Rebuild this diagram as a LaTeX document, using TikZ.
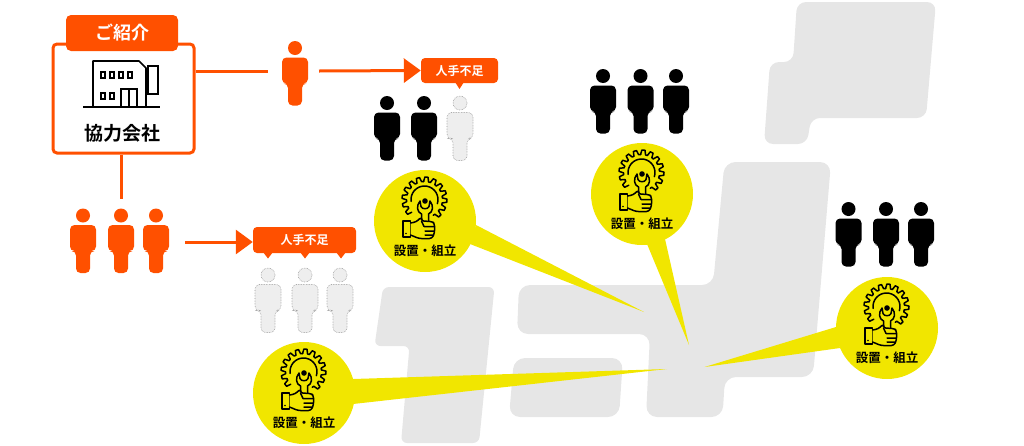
\documentclass[tikz,border=0pt]{standalone}
\usepackage{fontspec}
\setmainfont{Noto Sans CJK JP}[BoldFont={Noto Sans CJK JP Bold}]
\usetikzlibrary{arrows.meta}
\definecolor{org}{HTML}{FF5000}
\definecolor{yel}{HTML}{F1E600}
\definecolor{mapg}{HTML}{E6E6E6}
\definecolor{pale}{HTML}{EEEEEE}
\tikzset{
  mapshape/.style={fill=mapg,rounded corners=9pt},
  tail/.style={fill=yel},
  conn/.style={draw=org,line width=3pt},
  arrowconn/.style={conn,-{Triangle[length=17pt,width=24pt]}},
  iconline/.style={draw=black,line width=1.5pt,line join=round,line cap=round},
  tagtext/.style={text=white,font=\bfseries\fontsize{12}{12}\selectfont,inner sep=0pt},
  bubble/.style={fill=org,rounded corners=4pt},
  persblack/.style={fill=black},
  persorg/.style={fill=org},
  persgray/.style={fill=pale,draw=gray!80,line width=.6pt,densely dotted},
  pics/person/.style={code={
    \path[#1] (0,0) circle[radius=7pt];
    \path[#1,rounded corners=4.5pt] (-13,9.5) -- (13,9.5) -- (13,35.5) -- (7,35.5) -- (7,57.5) -- (-7,57.5) -- (-7,35.5) -- (-13,35.5) -- cycle;
  }},
  pics/repair/.style={code={
    \fill[yel] (0,0) circle[radius=51pt];
    \begin{scope}[shift={(-0.5,-21.5)}]
      \foreach \a in {135,157,...,399}{
        \draw[iconline] ({\a}:18) -- ({\a+4}:22.5) -- ({\a+12}:22.5) -- ({\a+16}:18) -- ({\a+22}:18);
      }
      \draw[iconline] plot[smooth,domain=172:378,samples=18] ({13.5*cos(\x)},{13.5*sin(\x)});
      \fill (0.5,1.5) circle[radius=2.8pt];
    \end{scope}
    \draw[iconline,fill=yel] (-3.5,3) -- (-3.5,-7) .. controls (-8,-9) and (-9,-15) .. (-5,-20) -- (-4,-14.5) .. controls (-3,-11.5) and (3,-11.5) .. (4,-14.5) -- (5,-20) .. controls (9,-15) and (8,-9) .. (3.5,-7) -- (3.5,3);
    \draw[iconline,fill=yel] (-22,0) rectangle (-14.5,16);
    \draw[iconline,fill=yel,rounded corners=2.5pt] (-14.5,2) -- (-9,1) -- (-3.5,-4) -- (-3.5,0) -- (7,0.5) -- (9.5,2.5) -- (9.5,12) -- (7,17.5) -- (-6,17.5) -- (-14.5,14);
    \draw[iconline] (-1,5.5) -- (9,5.5) (0,10) -- (9,10) (0,14) -- (8,14) (-3.5,0) -- (-1,5.5);
    \fill (-19,12.5) circle[radius=.9pt];
    \node[inner sep=0pt,font=\bfseries\fontsize{12.5}{12.5}\selectfont] at (0,30) {設置・組立};
  }}
}
\begin{document}
\begin{tikzpicture}[x=1pt,y=-1pt]
\useasboundingbox (0,0) rectangle (1024,445);
% map
\fill[mapshape] (797,2) -- (936,2) -- (926,118) -- (811,118) -- (807,144) -- (764,144) -- (770,62) -- (793,62) -- cycle;
\fill[mapshape,rounded corners=11pt] (724.5,162) -- (831,162) -- (813,377) -- (725,377) -- (722.5,417) -- (646,417) -- (650,334) -- (517,334) -- (519,285) -- (713,285) -- cycle;
\fill[mapshape,rounded corners=11pt] (514,358) -- (623,358) -- (619,417) -- (509,417) -- cycle;
\fill[mapshape,rounded corners=6pt] (383,287) -- (494.5,287) -- (479,443) -- (401,443) -- (409.5,346) -- (374.5,346) -- cycle;
% tails
\fill[tail] (476,225) -- (644,312) -- (470,244) -- cycle;
\fill[tail] (647,244) -- (665,239) -- (689,345) -- cycle;
\fill[tail] (836,327) -- (840,348) -- (704.5,367) -- cycle;
\fill[tail] (353,379) -- (667,369) -- (353,404) -- cycle;
% repair circles
\pic at (425,221) {repair};
\pic at (642,194) {repair};
\pic at (887,328) {repair};
\pic at (304,393) {repair};
% company box
\node[draw=org,line width=3pt,rounded corners=4pt,fill=white,minimum width=141pt,minimum height=109pt,inner sep=0pt] (box) at (123.5,98.5) {};
\node[fill=org,rounded corners=5pt,minimum width=112pt,minimum height=36pt,inner sep=0pt,text=white,font=\bfseries\fontsize{18}{18}\selectfont] (tag) at (122,33) {ご紹介};
\node[inner sep=0pt,font=\bfseries\fontsize{19}{19}\selectfont] (co) at (122,133) {協力会社};
% building
\draw[line width=1.6pt,line join=round] (93,106) -- (93,61) -- (139,61) -- (146,68) -- (146,106);
\draw[line width=1.8pt] (83,107) -- (160,107);
\draw[line width=1.5pt] (148,66) rectangle (158,94) (146,70) -- (148,70) (146,90) -- (148,90);
\foreach \wx in {103,112,121,130}{\draw[line width=1.3pt] (\wx-2,72) rectangle (\wx+2,78);}
\foreach \wx in {103,112}{\draw[line width=1.3pt] (\wx-2,93) rectangle (\wx+2,99);}
\draw[line width=1.3pt] (121,107) -- (121,89) -- (137,89) -- (137,107) (129,89) -- (129,107);
% connectors
\coordinate (c1) at (268,71);
\coordinate (c2) at (319,71);
\coordinate (c3) at (121,199);
\coordinate (c4) at (185,242);
\draw[conn] (box.east |- c1) -- (c1);
\draw[conn] (box.south -| c3) -- (c3);
% bubbles
\node[bubble,minimum width=77pt,minimum height=25pt,inner sep=0pt] (b1) at (459.5,70.5) {};
\node[tagtext] at (b1) {人手不足};
\fill[org] (455,82) -- (464,82) -- (459.5,89) -- cycle;
\node[bubble,minimum width=103pt,minimum height=26pt,inner sep=0pt] (b2) at (304.5,240) {};
\node[tagtext] at (b2) {人手不足};
\foreach \bx in {268,305,341}{\fill[org] (\bx-5,252) -- (\bx+5,252) -- (\bx,258.5) -- cycle;}
\draw[arrowconn] (c2) -- (b1.west);
\draw[arrowconn] (c4) -- (b2.west |- c4);
% people
\pic at (295,48) {person=persorg};
\foreach \px in {83,121,156}{\pic at (\px,215.5) {person=persorg};}
\foreach \px in {268,305,340}{\pic at (\px,275) {person=persgray};}
\foreach \px in {387,424}{\pic at (\px,103) {person=persblack};}
\pic at (460,103) {person=persgray};
\foreach \px in {603,640.5,676}{\pic at (\px,76) {person=persblack};}
\foreach \px in {848.5,886,921}{\pic at (\px,209) {person=persblack};}
\end{tikzpicture}
\end{document}
